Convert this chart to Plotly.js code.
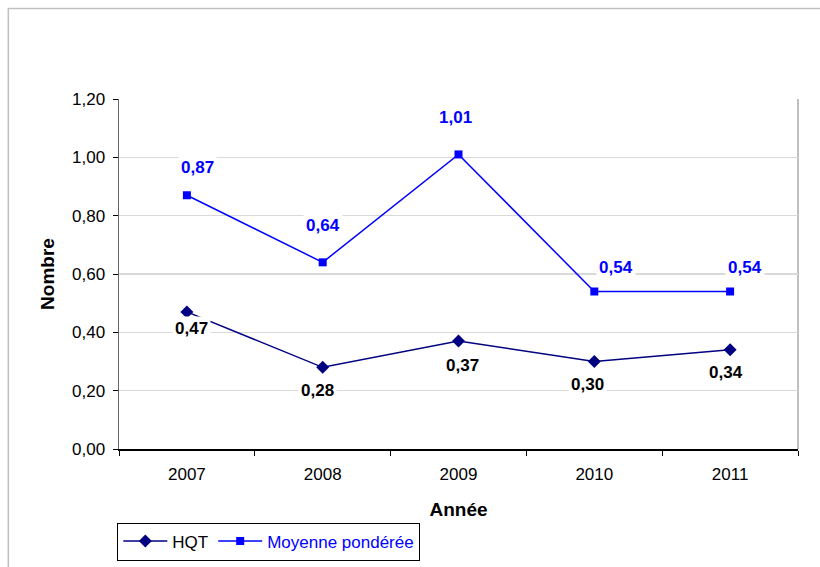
<!DOCTYPE html>
<html>
<head>
<meta charset="utf-8">
<script src="https://cdn.plot.ly/plotly-3.0.1.min.js"></script>
<style>
  html, body { margin: 0; padding: 0; background: #ffffff; }
  #chart { width: 820px; height: 567px; }
</style>
</head>
<body>
<div id="chart"></div>
<script>
// Années et séries
var annees = ['2007', '2008', '2009', '2010', '2011'];
var hqt = [0.47, 0.28, 0.37, 0.30, 0.34];
var moyenne = [0.87, 0.64, 1.01, 0.54, 0.54];

var nomHqt = 'HQT';
var nomMoyenne = 'Moyenne pondérée';

// Décalage des étiquettes de valeur (pixels) par rapport au point
var decalHqt = [[5, -17], [-5, -23], [4, -24], [-7, -23], [-4, -23]];
var decalMoy = [[11, 28], [0, 37], [-3, 37], [22, 24], [15, 24]];

var couleurHqt = '#000080';
var couleurMoy = '#0000FF';
var police = 'Liberation Sans, Arial, sans-serif';

function fmt(v) {
  return v.toFixed(2).replace('.', ',');
}

var traces = [
  {
    x: annees, y: hqt, name: nomHqt,
    type: 'scatter', mode: 'lines+markers',
    line: { color: couleurHqt, width: 1.5 },
    marker: { symbol: 'diamond', size: 10, color: couleurHqt },
    hoverinfo: 'skip'
  },
  {
    x: annees, y: moyenne,
    name: '<span style="color:' + couleurMoy + '">' + nomMoyenne + '</span>',
    type: 'scatter', mode: 'lines+markers',
    line: { color: couleurMoy, width: 1.5 },
    marker: { symbol: 'square', size: 8, color: couleurMoy },
    hoverinfo: 'skip'
  }
];

// Étiquettes de valeur sur fond blanc (position = indice de catégorie)
var etiquettes = [];
function ajouter(vals, decal, couleur) {
  vals.forEach(function (v, i) {
    etiquettes.push({
      x: i, y: v, xref: 'x', yref: 'y',
      text: '<b>' + fmt(v) + '</b>',
      showarrow: false,
      xshift: decal[i][0], yshift: decal[i][1],
      bgcolor: '#ffffff', borderpad: 2,
      font: { family: police, size: 17, color: couleur }
    });
  });
}
ajouter(hqt, decalHqt, '#000000');
ajouter(moyenne, decalMoy, couleurMoy);

var layout = {
  width: 820, height: 567,
  paper_bgcolor: '#ffffff', plot_bgcolor: '#ffffff',
  margin: { l: 118.7, r: 22.3, t: 98.7, b: 117.7, pad: 0, autoexpand: false },
  separators: ', ',
  font: { family: police, size: 17, color: '#000000' },
  showlegend: true,
  legend: {
    orientation: 'h', x: -0.0025, y: -0.21, xanchor: 'left', yanchor: 'top',
    bordercolor: '#000000', borderwidth: 1, bgcolor: '#ffffff',
    font: { family: police, size: 17, color: '#000000' },
    itemwidth: 44
  },
  xaxis: {
    type: 'category', range: [-0.5, 4.5],
    tickson: 'boundaries', ticks: 'outside', ticklen: 5, tickcolor: '#000000',
    showgrid: false, zeroline: false,
    showline: true, linecolor: '#000000', linewidth: 1.5,
    tickfont: { family: police, size: 17, color: '#000000' },
    ticklabelstandoff: 9,
    title: { text: '<b>Année</b>', font: { family: police, size: 19, color: '#000000' }, standoff: 20 },
    automargin: false,
    fixedrange: true
  },
  yaxis: {
    range: [0, 1.2], dtick: 0.2, tick0: 0, tickformat: '.2f',
    ticks: 'outside', ticklen: 5, tickcolor: '#000000',
    showgrid: true, gridcolor: '#D9D9D9', gridwidth: 1.5,
    zeroline: false,
    showline: true, linecolor: '#666666', linewidth: 1.5,
    tickfont: { family: police, size: 17, color: '#000000' },
    ticklabelstandoff: 4,
    title: { text: '<b>Nombre</b>', font: { family: police, size: 19, color: '#000000' }, standoff: 12 },
    automargin: false,
    fixedrange: true
  },
  shapes: [
    // cadre extérieur du graphique
    { type: 'rect', xref: 'paper', yref: 'paper', x0: -0.163, x1: 1.2, y0: -0.6, y1: 1.2587,
      line: { color: '#BFBFBF', width: 1.5 }, fillcolor: 'rgba(0,0,0,0)', layer: 'below' },
    // bord droit de la zone de traçage
    { type: 'line', xref: 'paper', yref: 'paper', x0: 1, x1: 1, y0: 0, y1: 1,
      line: { color: '#BFBFBF', width: 2 }, layer: 'below' }
  ],
  annotations: etiquettes
};

Plotly.newPlot('chart', traces, layout, { displayModeBar: false, staticPlot: true });
</script>
</body>
</html>
